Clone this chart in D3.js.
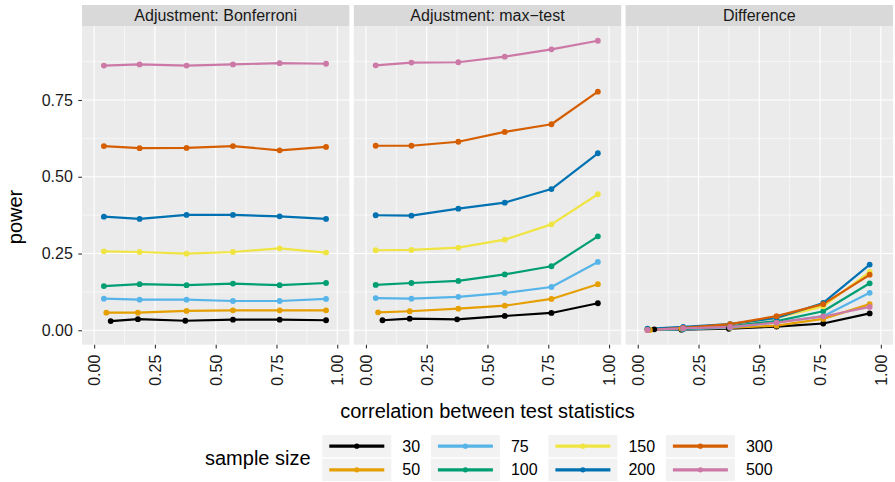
<!DOCTYPE html>
<html>
<head>
<meta charset="utf-8">
<script src="https://cdn.jsdelivr.net/npm/d3@7"></script>
<style>
  html, body { margin: 0; padding: 0; background: #ffffff; }
  svg { display: block; font-family: "Liberation Sans", Arial, sans-serif; }
</style>
</head>
<body>
<svg id="chart" width="895" height="482"></svg>
<script>
// Panels (facets) in display order
const panelTitles = ["Adjustment: Bonferroni", "Adjustment: max\u2212test", "Difference"];

// Sample sizes (legend order) and their colours
const sampleSizes = [30, 50, 75, 100, 150, 200, 300, 500];
const sizeColors = ["#000000", "#E69F00", "#56B4E9", "#009E73", "#F0E442", "#0072B2", "#D55E00", "#CC79A7"];

// Estimated correlation between the test statistics (x positions)
const corrN30 = [0.068, 0.180, 0.375, 0.571, 0.763, 0.954];
const corrN50 = [0.050, 0.180, 0.380, 0.571, 0.763, 0.954];
const corrOther = [0.040, 0.187, 0.380, 0.571, 0.763, 0.954];
const correlationBySize = [corrN30, corrN50, corrOther, corrOther, corrOther, corrOther, corrOther, corrOther];

// Power, one row per sample size
const powerBonferroni = [
  [0.030, 0.036, 0.031, 0.0345, 0.0345, 0.0326],
  [0.0573, 0.0573, 0.0629, 0.065, 0.065, 0.065],
  [0.103, 0.0997, 0.0997, 0.0954, 0.0954, 0.102],
  [0.144, 0.150, 0.147, 0.152, 0.147, 0.154],
  [0.257, 0.255, 0.2495, 0.255, 0.267, 0.253],
  [0.370, 0.3625, 0.3756, 0.3756, 0.371, 0.3625],
  [0.600, 0.593, 0.594, 0.600, 0.586, 0.597],
  [0.862, 0.866, 0.862, 0.866, 0.870, 0.868]
];
const powerMaxTest = [
  [0.0326, 0.0378, 0.0358, 0.0466, 0.0564, 0.088],
  [0.0586, 0.062, 0.0704, 0.080, 0.102, 0.150],
  [0.105, 0.103, 0.109, 0.1215, 0.141, 0.2225],
  [0.1476, 0.154, 0.1606, 0.182, 0.2085, 0.306],
  [0.2606, 0.2616, 0.269, 0.295, 0.345, 0.443],
  [0.3746, 0.3733, 0.396, 0.4157, 0.460, 0.5765],
  [0.601, 0.601, 0.614, 0.646, 0.671, 0.777],
  [0.863, 0.872, 0.873, 0.891, 0.915, 0.943]
];
const powerDifference = [
  [0.003, 0.002, 0.005, 0.012, 0.022, 0.055],
  [0.001, 0.005, 0.008, 0.015, 0.037, 0.085],
  [0.002, 0.003, 0.009, 0.026, 0.046, 0.122],
  [0.004, 0.004, 0.014, 0.030, 0.062, 0.153],
  [0.004, 0.007, 0.020, 0.040, 0.078, 0.190],
  [0.005, 0.011, 0.020, 0.040, 0.089, 0.214],
  [0.001, 0.008, 0.020, 0.046, 0.085, 0.181],
  [0.001, 0.006, 0.011, 0.025, 0.045, 0.076]
];
const panelValues = [powerBonferroni, powerMaxTest, powerDifference];

// Axis ticks
const xTicks = [0, 0.25, 0.5, 0.75, 1];
const xMinor = [0.125, 0.375, 0.625, 0.875];
const yTicks = [0, 0.25, 0.5, 0.75];
const yMinor = [0.125, 0.375, 0.625, 0.875];

const svg = d3.select("#chart");

// Layout
const plotLeft = 82, plotRight = 893, panelGap = 4.4;
const stripTop = 5, stripH = 21;
const panelTop = stripTop + stripH, panelBottom = 344.7;
const panelW = (plotRight - plotLeft - 2 * panelGap) / 3;

const y = d3.scaleLinear().domain([-0.047, 0.991]).range([panelBottom, panelTop]);
const fmt = d3.format(".2f");

panelTitles.forEach((title, p) => {
  const x0 = plotLeft + p * (panelW + panelGap);
  const x = d3.scaleLinear().domain([-0.05, 1.05]).range([x0, x0 + panelW]);
  const g = svg.append("g");

  // panel background
  g.append("rect").attr("x", x0).attr("y", panelTop).attr("width", panelW)
    .attr("height", panelBottom - panelTop).attr("fill", "#EBEBEB");

  // grid
  g.selectAll(".ymin").data(yMinor).join("line")
    .attr("x1", x0).attr("x2", x0 + panelW).attr("y1", d => y(d)).attr("y2", d => y(d))
    .attr("stroke", "#fff").attr("stroke-width", 0.55);
  g.selectAll(".xmin").data(xMinor).join("line")
    .attr("y1", panelTop).attr("y2", panelBottom).attr("x1", d => x(d)).attr("x2", d => x(d))
    .attr("stroke", "#fff").attr("stroke-width", 0.55);
  g.selectAll(".ymaj").data(yTicks).join("line")
    .attr("x1", x0).attr("x2", x0 + panelW).attr("y1", d => y(d)).attr("y2", d => y(d))
    .attr("stroke", "#fff").attr("stroke-width", 1.1);
  g.selectAll(".xmaj").data(xTicks).join("line")
    .attr("y1", panelTop).attr("y2", panelBottom).attr("x1", d => x(d)).attr("x2", d => x(d))
    .attr("stroke", "#fff").attr("stroke-width", 1.1);

  // strip
  g.append("rect").attr("x", x0).attr("y", stripTop).attr("width", panelW)
    .attr("height", stripH).attr("fill", "#D9D9D9");
  g.append("text").attr("x", x0 + panelW / 2).attr("y", stripTop + stripH / 2)
    .attr("dy", "0.35em").attr("text-anchor", "middle").attr("font-size", 16)
    .attr("fill", "#1A1A1A").text(title);

  // x axis
  const xAxis = d3.axisBottom(x).tickValues(xTicks).tickSize(3.7).tickFormat(fmt);
  const xa = g.append("g").attr("transform", `translate(0,${panelBottom})`).call(xAxis);
  xa.select(".domain").remove();
  xa.selectAll(".tick line").attr("stroke", "#333").attr("stroke-width", 1.1);
  xa.selectAll(".tick text")
    .attr("font-size", 16).attr("fill", "#1A1A1A").attr("font-family", null)
    .attr("text-anchor", "end").attr("y", 0).attr("dy", "0.35em")
    .attr("transform", "translate(0,10) rotate(-90)");

  // y axis only on the first panel
  if (p === 0) {
    const yAxis = d3.axisLeft(y).tickValues(yTicks).tickSize(3.7).tickFormat(fmt).tickPadding(5.5);
    const ya = g.append("g").attr("transform", `translate(${x0},0)`).call(yAxis);
    ya.select(".domain").remove();
    ya.selectAll(".tick line").attr("stroke", "#333").attr("stroke-width", 1.1);
    ya.selectAll(".tick text").attr("font-size", 16).attr("fill", "#1A1A1A").attr("font-family", null);
  }

  // series
  const rows = panelValues[p];
  const series = sampleSizes.map((n, i) => ({
    n, color: sizeColors[i],
    pts: rows[i].map((v, j) => ({ r: correlationBySize[i][j], v }))
  }));
  const line = d3.line().x(d => x(d.r)).y(d => y(d.v));
  g.selectAll(".series-line").data(series).join("path")
    .attr("d", d => line(d.pts)).attr("fill", "none")
    .attr("stroke", d => d.color).attr("stroke-width", 2.2)
    .attr("stroke-linejoin", "round");
  series.forEach(s => {
    g.selectAll(null).data(s.pts).join("circle")
      .attr("cx", d => x(d.r)).attr("cy", d => y(d.v)).attr("r", 2.9)
      .attr("fill", s.color);
  });
});

// axis titles
svg.append("text").attr("x", (plotLeft + plotRight) / 2).attr("y", 418)
  .attr("text-anchor", "middle").attr("font-size", 20).attr("fill", "#000")
  .text("correlation between test statistics");
svg.append("text").attr("transform", "translate(22,217) rotate(-90)")
  .attr("text-anchor", "middle").attr("font-size", 20).attr("fill", "#000")
  .text("power");

// legend
const legend = svg.append("g");
legend.append("text").attr("x", 205).attr("y", 458).attr("dy", "0.35em")
  .attr("font-size", 20).attr("fill", "#000").text("sample size");

const keyW = 69, keyH = 22.3, keyGap = 1.4, legendTop = 435;
let colX = 322.3;
for (let c = 0; c < 4; c++) {
  const items = [2 * c, 2 * c + 1];
  let maxW = 0;
  items.forEach((i, r) => {
    const ky = legendTop + r * (keyH + keyGap);
    legend.append("rect").attr("x", colX).attr("y", ky).attr("width", keyW)
      .attr("height", keyH).attr("fill", "#F2F2F2");
    legend.append("line").attr("x1", colX + 7).attr("x2", colX + keyW - 7)
      .attr("y1", ky + keyH / 2).attr("y2", ky + keyH / 2)
      .attr("stroke", sizeColors[i]).attr("stroke-width", 3.2);
    legend.append("circle").attr("cx", colX + keyW / 2).attr("cy", ky + keyH / 2)
      .attr("r", 2.6).attr("fill", sizeColors[i]);
    const t = legend.append("text").attr("x", colX + keyW + 11).attr("y", ky + keyH / 2)
      .attr("dy", "0.35em").attr("font-size", 16).attr("fill", "#000").text(sampleSizes[i]);
    maxW = Math.max(maxW, t.node().getComputedTextLength());
  });
  colX = colX + keyW + 11 + maxW + 10.8;
}
</script>
</body>
</html>
